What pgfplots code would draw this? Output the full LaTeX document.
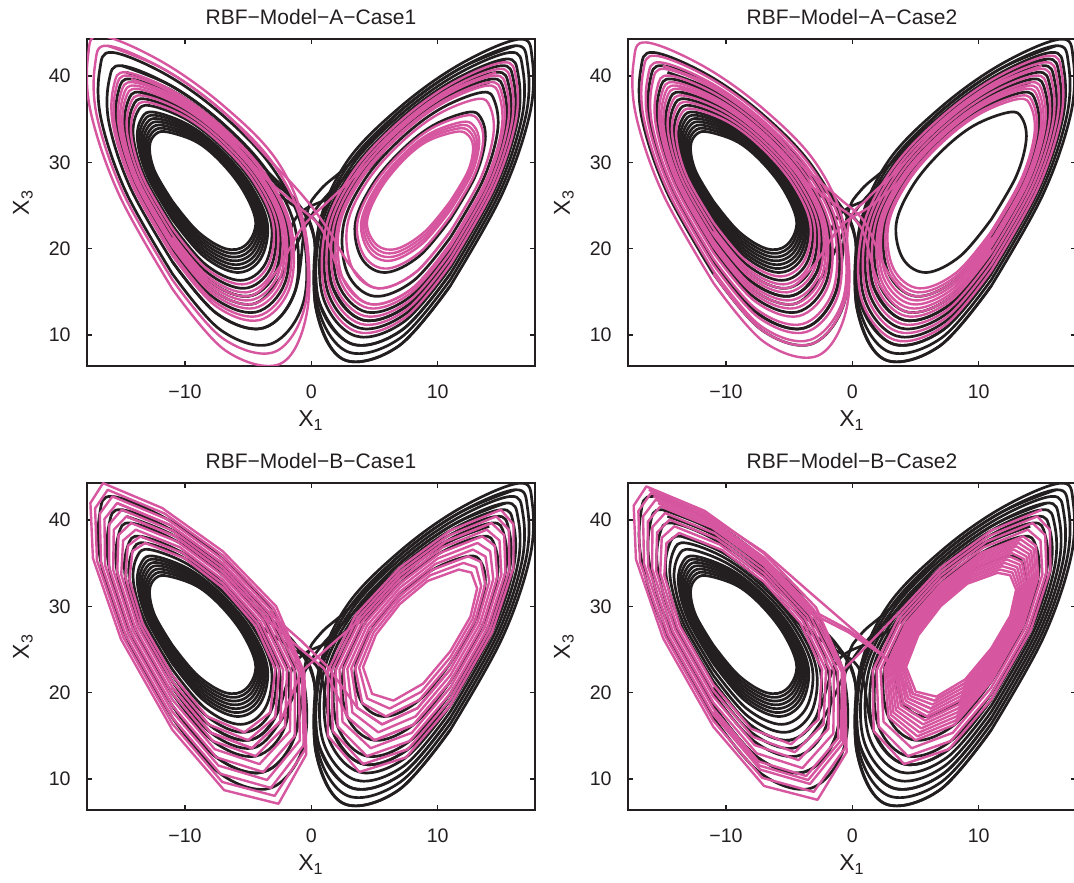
\documentclass[border=0pt]{standalone}
\usepackage{fontspec}
\setmainfont{Liberation Sans}
\usepackage{pgfplots}
\usepackage{pgfplotstable}
\pgfplotsset{compat=1.18}
\definecolor{blk}{RGB}{35,31,32}
\definecolor{pnk}{RGB}{214,86,160}

% Loop tables: xl = left wing X1, xr = right wing X1, z = X3
\pgfplotstableread{
xl xr z
-11 11 25.5
-12.4 12.4 29.0
-12.8 12.8 31.8
-12.3 12.3 33.3
-11.3 11.3 33.5
-9.0 9.0 32.3
-7 7 29.8
-5.3 5.3 26.5
-4.4 4.4 23.0
-5.2 5.2 20.4
-6.8 6.8 20.0
-9.0 9.0 22.0
-11 11 25.5
}\LoopA
\pgfplotstableread{
xl xr z
-11 11 25.15
-12.5 12.5 28.9
-12.96 12.96 31.94
-12.49 12.49 33.61
-11.49 11.49 33.89
-9.1 9.1 32.63
-7 7 30.04
-5.21 5.21 26.63
-4.25 4.25 22.98
-5.01 5.01 20.13
-6.65 6.65 19.54
-8.93 8.93 21.53
-11 11 25.15
}\LoopB
\pgfplotstableread{
xl xr z
-11 11 24.8
-12.59 12.59 28.8
-13.12 13.12 32.07
-12.67 12.67 33.92
-11.67 11.67 34.27
-9.2 9.2 32.95
-7 7 30.27
-5.12 5.12 26.75
-4.09 4.09 22.95
-4.81 4.81 19.86
-6.5 6.5 19.08
-8.85 8.85 21.05
-11 11 24.8
}\LoopC
\pgfplotstableread{
xl xr z
-11 11 24.45
-12.69 12.69 28.7
-13.28 13.28 32.21
-12.86 12.86 34.23
-11.86 11.86 34.66
-9.3 9.3 33.28
-7 7 30.51
-5.03 5.03 26.88
-3.94 3.94 22.93
-4.62 4.62 19.59
-6.35 6.35 18.62
-8.78 8.78 20.58
-11 11 24.45
}\LoopD
\pgfplotstableread{
xl xr z
-11 11 24.1
-12.78 12.78 28.6
-13.44 13.44 32.34
-13.04 13.04 34.54
-12.04 12.04 35.04
-9.4 9.4 33.6
-7 7 30.74
-4.94 4.94 27.0
-3.78 3.78 22.9
-4.42 4.42 19.32
-6.2 6.2 18.16
-8.7 8.7 20.1
-11 11 24.1
}\LoopE
\pgfplotstableread{
xl xr z
-11 11 23.75
-12.88 12.88 28.5
-13.6 13.6 32.48
-13.23 13.23 34.85
-12.23 12.23 35.43
-9.5 9.5 33.93
-7 7 30.98
-4.85 4.85 27.13
-3.63 3.63 22.88
-4.23 4.23 19.05
-6.05 6.05 17.7
-8.63 8.63 19.63
-11 11 23.75
}\LoopF
\pgfplotstableread{
xl xr z
-11 11 23.4
-12.97 12.97 28.4
-13.76 13.76 32.61
-13.41 13.41 35.16
-12.41 12.41 35.81
-9.6 9.6 34.25
-7 7 31.21
-4.76 4.76 27.25
-3.47 3.47 22.85
-4.03 4.03 18.78
-5.9 5.9 17.24
-8.55 8.55 19.15
-11 11 23.4
}\LoopG
\pgfplotstableread{
xl xr z
-11 11 23.05
-13.07 13.07 28.3
-13.92 13.92 32.75
-13.6 13.6 35.47
-12.6 12.6 36.2
-9.7 9.7 34.58
-7 7 31.45
-4.67 4.67 27.38
-3.32 3.32 22.83
-3.84 3.84 18.51
-5.75 5.75 16.78
-8.48 8.48 18.68
-11 11 23.05
}\LoopH
\pgfplotstableread{
xl xr z
-11 11 22.7
-13.16 13.16 28.2
-14.08 14.08 32.88
-13.78 13.78 35.78
-12.78 12.78 36.58
-9.8 9.8 34.9
-7 7 31.68
-4.58 4.58 27.5
-3.16 3.16 22.8
-3.64 3.64 18.24
-5.6 5.6 16.32
-8.4 8.4 18.2
-11 11 22.7
}\LoopI
\pgfplotstableread{
xl xr z
-11 11 22.35
-13.26 13.26 28.1
-14.24 14.24 33.02
-13.97 13.97 36.09
-12.97 12.97 36.97
-9.9 9.9 35.23
-7 7 31.92
-4.49 4.49 27.63
-3.01 3.01 22.78
-3.45 3.45 17.97
-5.45 5.45 15.86
-8.33 8.33 17.73
-11 11 22.35
}\LoopJ
\pgfplotstableread{
xl xr z
-11 11 22.0
-13.35 13.35 28.0
-14.4 14.4 33.15
-14.15 14.15 36.4
-13.15 13.15 37.35
-10.0 10.0 35.55
-7 7 32.15
-4.4 4.4 27.75
-2.85 2.85 22.75
-3.25 3.25 17.7
-5.3 5.3 15.4
-8.25 8.25 17.25
-11 11 22.0
}\LoopK
\pgfplotstableread{
xl xr z
-11 11 21.65
-13.45 13.45 27.9
-14.56 14.56 33.29
-14.34 14.34 36.71
-13.34 13.34 37.74
-10.1 10.1 35.88
-7 7 32.39
-4.31 4.31 27.88
-2.7 2.7 22.73
-3.06 3.06 17.43
-5.15 5.15 14.94
-8.18 8.18 16.78
-11 11 21.65
}\LoopL
\pgfplotstableread{
xl xr z
-11 11 21.3
-13.54 13.54 27.8
-14.72 14.72 33.42
-14.52 14.52 37.02
-13.52 13.52 38.12
-10.2 10.2 36.2
-7 7 32.62
-4.22 4.22 28.0
-2.54 2.54 22.7
-2.86 2.86 17.16
-5.0 5.0 14.48
-8.1 8.1 16.3
-11 11 21.3
}\LoopM
\pgfplotstableread{
xl xr z
-11 11 20.95
-13.64 13.64 27.7
-14.88 14.88 33.56
-14.71 14.71 37.33
-13.71 13.71 38.51
-10.3 10.3 36.53
-7 7 32.86
-4.13 4.13 28.13
-2.39 2.39 22.68
-2.67 2.67 16.89
-4.85 4.85 14.02
-8.03 8.03 15.83
-11 11 20.95
}\LoopN
\pgfplotstableread{
xl xr z
-11 11 20.6
-13.73 13.73 27.6
-15.04 15.04 33.69
-14.89 14.89 37.64
-13.89 13.89 38.89
-10.4 10.4 36.85
-7 7 33.09
-4.04 4.04 28.25
-2.23 2.23 22.65
-2.47 2.47 16.62
-4.7 4.7 13.56
-7.95 7.95 15.35
-11 11 20.6
}\LoopO
\pgfplotstableread{
xl xr z
-11 11 20.25
-13.83 13.83 27.5
-15.2 15.2 33.83
-15.08 15.08 37.95
-14.08 14.08 39.28
-10.5 10.5 37.18
-7 7 33.33
-3.95 3.95 28.38
-2.08 2.08 22.63
-2.28 2.28 16.35
-4.55 4.55 13.1
-7.88 7.88 14.88
-11 11 20.25
}\LoopP
\pgfplotstableread{
xl xr z
-11 11 19.9
-13.92 13.92 27.4
-15.36 15.36 33.96
-15.26 15.26 38.26
-14.26 14.26 39.66
-10.6 10.6 37.5
-7 7 33.56
-3.86 3.86 28.5
-1.92 1.92 22.6
-2.08 2.08 16.08
-4.4 4.4 12.64
-7.8 7.8 14.4
-11 11 19.9
}\LoopQ
\pgfplotstableread{
xl xr z
-11 11 19.55
-14.02 14.02 27.3
-15.52 15.52 34.1
-15.45 15.45 38.57
-14.45 14.45 40.05
-10.7 10.7 37.83
-7 7 33.8
-3.77 3.77 28.63
-1.77 1.77 22.58
-1.89 1.89 15.81
-4.25 4.25 12.18
-7.73 7.73 13.93
-11 11 19.55
}\LoopR
\pgfplotstableread{
xl xr z
-11 11 19.2
-14.11 14.11 27.2
-15.68 15.68 34.23
-15.63 15.63 38.88
-14.63 14.63 40.43
-10.8 10.8 38.15
-7 7 34.03
-3.68 3.68 28.75
-1.61 1.61 22.55
-1.69 1.69 15.54
-4.1 4.1 11.72
-7.65 7.65 13.45
-11 11 19.2
}\LoopS
\pgfplotstableread{
xl xr z
-11 11 18.85
-14.21 14.21 27.1
-15.84 15.84 34.37
-15.82 15.82 39.19
-14.82 14.82 40.82
-10.9 10.9 38.48
-7 7 34.27
-3.59 3.59 28.88
-1.46 1.46 22.53
-1.5 1.5 15.27
-3.95 3.95 11.26
-7.58 7.58 12.98
-11 11 18.85
}\LoopT
\pgfplotstableread{
xl xr z
-11 11 18.5
-14.3 14.3 27.0
-16.0 16.0 34.5
-16.0 16.0 39.5
-15.0 15.0 41.2
-11.0 11.0 38.8
-7 7 34.5
-3.5 3.5 29.0
-1.3 1.3 22.5
-1.3 1.3 15.0
-3.8 3.8 10.8
-7.5 7.5 12.5
-11 11 18.5
}\LoopU
\pgfplotstableread{
xl xr z
-11 11 18.15
-14.4 14.4 26.9
-16.16 16.16 34.64
-16.19 16.19 39.81
-15.19 15.19 41.59
-11.1 11.1 39.13
-7 7 34.74
-3.41 3.41 29.13
-1.15 1.15 22.48
-1.11 1.11 14.73
-3.65 3.65 10.34
-7.43 7.43 12.03
-11 11 18.15
}\LoopV
\pgfplotstableread{
xl xr z
-11 11 17.8
-14.49 14.49 26.8
-16.32 16.32 34.77
-16.37 16.37 40.12
-15.37 15.37 41.97
-11.2 11.2 39.45
-7 7 34.97
-3.32 3.32 29.25
-0.99 0.99 22.45
-0.91 0.91 14.46
-3.5 3.5 9.88
-7.35 7.35 11.55
-11 11 17.8
}\LoopW
\pgfplotstableread{
xl xr z
-11 11 17.45
-14.59 14.59 26.7
-16.48 16.48 34.91
-16.56 16.56 40.43
-15.56 15.56 42.36
-11.3 11.3 39.78
-7 7 35.21
-3.23 3.23 29.38
-0.84 0.84 22.43
-0.72 0.72 14.19
-3.35 3.35 9.42
-7.28 7.28 11.08
-11 11 17.45
}\LoopX
\pgfplotstableread{
xl xr z
-11 11 17.1
-14.68 14.68 26.6
-16.64 16.64 35.04
-16.74 16.74 40.74
-15.74 15.74 42.74
-11.4 11.4 40.1
-7 7 35.44
-3.14 3.14 29.5
-0.75 0.75 22.4
-0.6 0.6 13.92
-3.2 3.2 8.96
-7.2 7.2 10.6
-11 11 17.1
}\LoopY
\pgfplotstableread{
xl xr z
-11 11 16.75
-14.78 14.78 26.5
-16.8 16.8 35.18
-16.93 16.93 41.05
-15.93 15.93 43.13
-11.5 11.5 40.43
-7 7 35.68
-3.05 3.05 29.63
-0.7 0.7 22.38
-0.55 0.55 13.65
-3.05 3.05 8.5
-7.13 7.13 10.13
-11 11 16.75
}\LoopZ
\pgfplotstableread{
xl xr z
-11 11 16.4
-14.87 14.87 26.4
-16.96 16.96 35.31
-17.11 17.11 41.36
-16.11 16.11 43.51
-11.6 11.6 40.75
-7 7 35.91
-2.96 2.96 29.75
-0.65 0.65 22.35
-0.5 0.5 13.38
-2.9 2.9 8.04
-7.05 7.05 9.65
-11 11 16.4
}\LoopZa
\pgfplotstableread{
xl xr z
-11 11 16.05
-14.97 14.97 26.3
-17.12 17.12 35.45
-17.3 17.3 41.67
-16.3 16.3 43.9
-11.7 11.7 41.08
-7 7 36.15
-2.87 2.87 29.88
-0.6 0.6 22.33
-0.45 0.45 13.11
-2.75 2.75 7.58
-6.98 6.98 9.18
-11 11 16.05
}\LoopZb
\pgfplotstableread{
xl xr z
-11 11 15.7
-15.06 15.06 26.2
-17.28 17.28 35.58
-17.48 17.48 41.98
-16.48 16.48 44.28
-11.8 11.8 41.4
-7 7 36.38
-2.78 2.78 30.0
-0.55 0.55 22.3
-0.4 0.4 12.84
-2.6 2.6 7.12
-6.9 6.9 8.7
-11 11 15.7
}\LoopZc
\pgfplotstableread{
xl xr z
-11 11 15.35
-15.16 15.16 26.1
-17.44 17.44 35.72
-17.67 17.67 42.29
-16.67 16.67 44.67
-11.9 11.9 41.73
-7 7 36.62
-2.69 2.69 30.13
-0.5 0.5 22.28
-0.35 0.35 12.57
-2.45 2.45 6.66
-6.83 6.83 8.23
-11 11 15.35
}\LoopZd

\pgfplotsset{
  bk/.style={color=blk, line width=1.35pt, smooth, tension=0.6, no markers},
  pk/.style={color=pnk, line width=1.2pt, smooth, tension=0.6, no markers},
  pj/.style={color=pnk, line width=1.2pt, sharp plot, line join=round, no markers},
  lor/.style={
    scale only axis, width=224pt, height=163.5pt,
    xmin=-17.75, xmax=17.7, ymin=6.4, ymax=44.3,
    xtick={-10,0,10}, xticklabels={−10,0,10},
    ytick={10,20,30,40}, yticklabels={10,20,30,40},
    tick align=inside, major tick length=2.4pt,
    axis line style={line width=0.9pt, draw=blk},
    tick style={line width=0.6pt, draw=blk},
    tick label style={font=\fontsize{9.8}{11}\selectfont, text=blk},
    xticklabel style={anchor=base, yshift=-16.2pt, inner sep=0pt},
    yticklabel style={anchor=east, xshift=-8pt, inner sep=0pt},
    xlabel={X\textsubscript{1}}, ylabel={X\textsubscript{3}},
    label style={font=\fontsize{11.5}{13}\selectfont, text=blk},
    xlabel style={at={(axis description cs:0.5,-0.1853)}, anchor=base},
    ylabel style={at={(axis description cs:-0.1295,0.5)}, anchor=base},
    every axis title/.style={at={(axis description cs:0.5,1.0446)}, anchor=base, font=\fontsize{10.5}{12}\selectfont, text=blk},
  },
}
\newcommand\Lw[2]{\addplot[#1] table[x=xl,y=z]{#2};}
\newcommand\Rw[2]{\addplot[#1] table[x=xr,y=z]{#2};}

\newcommand\BlackData{%
  \Lw{bk}{\LoopA}\Lw{bk}{\LoopB}\Lw{bk}{\LoopC}\Lw{bk}{\LoopD}\Lw{bk}{\LoopE}
  \Lw{bk}{\LoopF}\Lw{bk}{\LoopG}\Lw{bk}{\LoopI}\Lw{bk}{\LoopK}\Lw{bk}{\LoopM}
  \Lw{bk}{\LoopQ}\Lw{bk}{\LoopU}\Lw{bk}{\LoopY}
  \Rw{bk}{\LoopG}\Rw{bk}{\LoopM}\Rw{bk}{\LoopQ}\Rw{bk}{\LoopS}\Rw{bk}{\LoopU}
  \Rw{bk}{\LoopW}\Rw{bk}{\LoopY}\Rw{bk}{\LoopZa}\Rw{bk}{\LoopZc}
  \addplot[bk] coordinates {(-14.63,40.43) (-10.8,38.15) (-7,34.03) (-3.68,28.75) (-1.0,25.0) (0.25,21.0) (0.6,13.92) (3.2,8.96) (7.2,10.6) (11,17.1)};
  \addplot[bk] coordinates {(15.37,41.97) (11.2,39.45) (7,34.97) (3.32,29.25) (0.9,25.6) (-0.5,22.5) (-2.47,16.62) (-4.7,13.56) (-7.95,15.35) (-11,20.6)};
  \addplot[bk] coordinates {(-13.52,38.12) (-10.2,36.2) (-7,32.62) (-4.22,28.0) (-1.6,25.2) (0.6,22.6) (1.69,15.54) (4.1,11.72) (7.65,13.45) (11,19.2)};
  \addplot[bk] coordinates {(16.11,43.51) (11.6,40.75) (7,35.91) (2.96,29.75) (0.7,26.8) (-0.4,23.8) (-1.3,15.0) (-3.8,10.8) (-7.5,12.5) (-11,18.5)};
  \addplot[bk] coordinates {(-15,41.2) (-11,38.8) (-7,34.5) (-3.5,29) (-1.2,25.5) (0.2,21.5) (0.4,12.84) (2.6,7.12) (6.9,8.7) (11,15.7)};
  \addplot[bk] coordinates {(14.08,39.28) (10.5,37.18) (7,33.33) (3.95,28.38) (1.4,25.9) (-1.2,23.6) (-2.86,17.16) (-5.0,14.48) (-8.1,16.3) (-11,21.3)};
}

\begin{document}
\begin{tikzpicture}[x=1pt,y=1pt]
\path[use as bounding box] (0,0) rectangle (537,441);

% Panel 1
\begin{axis}[lor, at={(43.5pt,258pt)}, anchor=south west, title={RBF−Model−A−Case1}]
\BlackData
\Lw{pk}{\LoopJ}\Lw{pk}{\LoopL}\Lw{pk}{\LoopN}\Lw{pk}{\LoopO}\Lw{pk}{\LoopP}
\Lw{pk}{\LoopR}\Lw{pk}{\LoopS}\Lw{pk}{\LoopZa}\Lw{pk}{\LoopZd}
\Rw{pk}{\LoopA}\Rw{pk}{\LoopB}\Rw{pk}{\LoopC}\Rw{pk}{\LoopD}\Rw{pk}{\LoopF}
\Rw{pk}{\LoopK}\Rw{pk}{\LoopO}\Rw{pk}{\LoopP}\Rw{pk}{\LoopR}\Rw{pk}{\LoopT}\Rw{pk}{\LoopV}
\addplot[pk] coordinates {(-14.26,39.66) (-10.6,37.5) (-7,33.56) (-3.86,28.5) (-1.3,25.2) (0.8,22.3) (2.47,16.62) (4.7,13.56) (7.95,15.35) (11,20.6)};
\addplot[pk] coordinates {(14.63,40.43) (10.8,38.15) (7,34.03) (3.68,28.75) (1.2,25.3) (-0.8,22.3) (-2.86,17.16) (-5.0,14.48) (-8.1,16.3) (-11,21.3)};
\addplot[pk] coordinates {(-16.11,43.51) (-11.6,40.75) (-7,35.91) (-2.96,29.75) (-0.6,26) (1.2,22.5) (3.25,17.7) (5.3,15.4) (8.25,17.25) (11,22)};
\end{axis}

% Panel 2
\begin{axis}[lor, at={(314pt,258pt)}, anchor=south west, title={RBF−Model−A−Case2}]
\BlackData
\Lw{pk}{\LoopH}\Lw{pk}{\LoopJ}\Lw{pk}{\LoopL}\Lw{pk}{\LoopN}\Lw{pk}{\LoopO}\Lw{pk}{\LoopP}
\Lw{pk}{\LoopR}\Lw{pk}{\LoopT}\Lw{pk}{\LoopV}\Lw{pk}{\LoopX}\Lw{pk}{\LoopZb}
\Rw{pk}{\LoopK}\Rw{pk}{\LoopL}\Rw{pk}{\LoopN}\Rw{pk}{\LoopO}\Rw{pk}{\LoopP}
\Rw{pk}{\LoopR}\Rw{pk}{\LoopT}\Rw{pk}{\LoopV}\Rw{pk}{\LoopX}
\addplot[pk] coordinates {(-13.89,38.89) (-10.4,36.85) (-7,33.09) (-4.04,28.25) (-1.5,25.3) (0.7,22.4) (2.08,16.08) (4.4,12.64) (7.8,14.4) (11,19.9)};
\addplot[pk] coordinates {(15,41.2) (11,38.8) (7,34.5) (3.5,29) (1.2,25.8) (-0.3,22.8) (-0.6,13.92) (-3.2,8.96) (-7.2,10.6) (-11,17.1)};
\addplot[pk] coordinates {(-15,41.2) (-11,38.8) (-7,34.5) (-3.5,29) (-1,25.8) (1.0,23) (2.86,17.16) (5,14.48) (8.1,16.3) (11,21.3)};
\addplot[pk] coordinates {(13.89,38.89) (10.4,36.85) (7,33.09) (4.04,28.25) (1.5,25) (-0.9,22.6) (-3.25,17.7) (-5.3,15.4) (-8.25,17.25) (-11,22)};
\end{axis}

% Panel 3
\begin{axis}[lor, at={(43.5pt,36pt)}, anchor=south west, title={RBF−Model−B−Case1}]
\BlackData
\Lw{pj}{\LoopK}\Lw{pj}{\LoopM}\Lw{pj}{\LoopO}\Lw{pj}{\LoopQ}\Lw{pj}{\LoopS}
\Lw{pj}{\LoopU}\Lw{pj}{\LoopW}\Lw{pj}{\LoopY}\Lw{pj}{\LoopZa}\Lw{pj}{\LoopZc}
\Rw{pj}{\LoopC}\Rw{pj}{\LoopE}\Rw{pj}{\LoopG}\Rw{pj}{\LoopI}\Rw{pj}{\LoopK}
\Rw{pj}{\LoopM}\Rw{pj}{\LoopO}\Rw{pj}{\LoopQ}\Rw{pj}{\LoopS}\Rw{pj}{\LoopU}
\addplot[pj] coordinates {(-15.37,41.97) (-11.2,39.45) (-7,34.97) (-3.32,29.25) (-0.8,26) (1.3,23) (3.64,18.24) (5.6,16.32) (8.4,18.2) (11,22.7)};
\addplot[pj] coordinates {(14.26,39.66) (10.6,37.5) (7,33.56) (3.86,28.5) (1.3,25.2) (-0.8,22.4) (-2.47,16.62) (-4.7,13.56) (-7.95,15.35) (-11,20.6)};
\addplot[pj] coordinates {(-14.63,40.43) (-10.8,38.15) (-7,34.03) (-3.68,28.75) (-1.2,25.5) (1.0,22.8) (2.86,17.16) (5,14.48) (8.1,16.3) (11,21.3)};
\end{axis}

% Panel 4
\begin{axis}[lor, at={(314pt,36pt)}, anchor=south west, title={RBF−Model−B−Case2}]
\BlackData
\Lw{pj}{\LoopN}\Lw{pj}{\LoopP}\Lw{pj}{\LoopR}\Lw{pj}{\LoopT}\Lw{pj}{\LoopV}
\Lw{pj}{\LoopX}\Lw{pj}{\LoopZ}\Lw{pj}{\LoopZb}
\Rw{pj}{\LoopB}\Rw{pj}{\LoopC}\Rw{pj}{\LoopD}\Rw{pj}{\LoopE}\Rw{pj}{\LoopF}
\Rw{pj}{\LoopG}\Rw{pj}{\LoopH}\Rw{pj}{\LoopI}\Rw{pj}{\LoopJ}\Rw{pj}{\LoopK}
\Rw{pj}{\LoopL}\Rw{pj}{\LoopM}\Rw{pj}{\LoopO}\Rw{pj}{\LoopQ}\Rw{pj}{\LoopS}
\addplot[pj] coordinates {(-16.11,43.51) (-11.6,40.75) (-7,36.3) (-3.5,31.8) (-0.5,28) (2.3,24.5) (3.47,22.85) (4.03,18.78) (5.9,17.24) (8.55,19.15)};
\addplot[pj] coordinates {(-15.74,42.74) (-11.4,40.1) (-7,35.44) (-3.14,29.5) (-0.2,27.2) (2.5,24.2) (3.8,22) (4.42,19.32) (6.2,18.16) (8.7,20.1)};
\addplot[pj] coordinates {(15,41.2) (11,38.8) (7,34.5) (3.5,29) (1.2,25.5) (-0.8,22.5) (-0.91,14.46) (-3.5,9.88) (-7.35,11.55) (-11,17.8)};
\addplot[pj] coordinates {(-15.37,41.97) (-11.2,39.45) (-7,34.97) (-3.32,29.25) (-0.3,27) (2.4,24.3) (4.81,19.86) (6.5,19.08) (8.85,21.05)};
\end{axis}
\end{tikzpicture}
\end{document}
